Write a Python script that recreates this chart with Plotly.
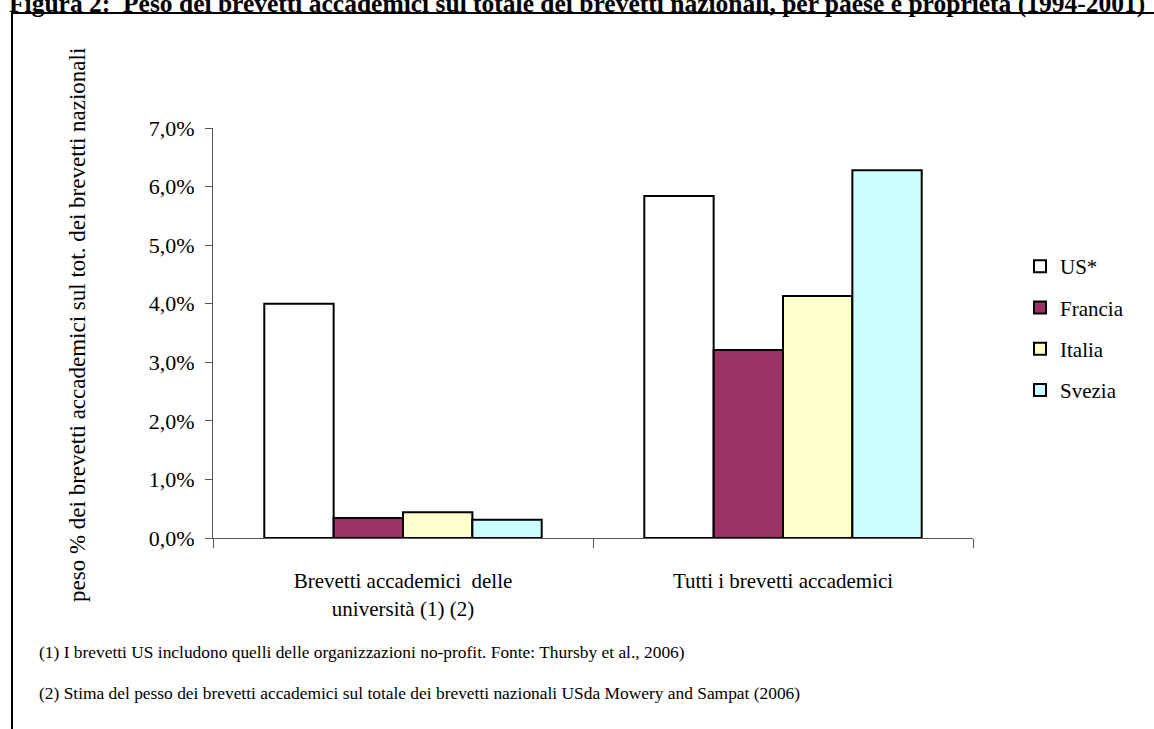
import plotly.graph_objects as go

categories = ["Brevetti accademici  delle<br>università (1) (2)", "Tutti i brevetti accademici"]
series_names = ["US*", "Francia", "Italia", "Svezia"]
us = [0.0400, 0.0584]
francia = [0.0034, 0.0321]
italia = [0.0044, 0.0413]
svezia = [0.0031, 0.0628]
series_values = [us, francia, italia, svezia]
colors = ["#FFFFFF", "#993366", "#FFFFCC", "#CCFFFF"]

title_text = "Figura 2:  Peso dei brevetti accademici sul totale dei brevetti nazionali, per paese e proprietà (1994-2001)"
ytitle = "peso % dei brevetti accademici sul tot. dei brevetti nazionali"
note1 = "(1) I brevetti US includono quelli delle organizzazioni no-profit. Fonte: Thursby et al., 2006)"
note2 = "(2) Stima del pesso dei brevetti accademici sul totale dei brevetti nazionali USda Mowery and Sampat (2006)"

W, H = 1154, 729
L, R, T, B = 213, 973, 128, 538
FONT = "Liberation Serif"

def px(x):
    return (x - L) / (R - L)

def py(y):
    return (B - y) / (B - T)

fig = go.Figure()
for i, (name, vals) in enumerate(zip(series_names, series_values)):
    fig.add_trace(go.Bar(
        x=categories, y=vals, name=name, legendgroup=name,
        marker=dict(color=colors[i], line=dict(color="black", width=2)),
    ))

fig.update_layout(
    width=W, height=H,
    margin=dict(l=L, r=W - R, t=T, b=H - B, pad=0),
    paper_bgcolor="white", plot_bgcolor="white",
    separators=",.",
    barmode="group", bargap=0.27, bargroupgap=0,
    font=dict(family=FONT, color="black", size=18),
    showlegend=True,
    legend=dict(x=px(1020), y=py(246), xanchor="left", yanchor="top",
                font=dict(size=21, family=FONT), tracegroupgap=11,
                bgcolor="rgba(0,0,0,0)", itemwidth=30),
    xaxis=dict(showline=True, linecolor="#555", linewidth=1, ticks="outside",
               tickson="boundaries", ticklen=9, tickcolor="#555",
               tickfont=dict(size=21, family=FONT), showgrid=False,
               ticklabelstandoff=24),
    yaxis=dict(range=[0, 0.07], dtick=0.01, tickformat=".1%", showline=True,
               linecolor="#555", linewidth=1, ticks="outside", ticklen=7,
               tickcolor="#555", tickfont=dict(size=22, family=FONT),
               showgrid=False, zeroline=False, ticklabelstandoff=6),
)

# frame
fig.add_shape(type="rect", xref="paper", yref="paper",
              x0=px(12), x1=px(1170), y0=py(745), y1=py(13),
              line=dict(color="black", width=2), fillcolor="rgba(0,0,0,0)", layer="below")

fig.add_annotation(text="<b>" + title_text + "</b>", xref="paper", yref="paper",
                   x=px(577), y=py(4), xanchor="center", yanchor="middle",
                   showarrow=False, font=dict(family=FONT, size=25.5, color="black"))
fig.add_annotation(text=ytitle, xref="paper", yref="paper", x=px(77), y=py(325),
                   xanchor="center", yanchor="middle", textangle=-90, showarrow=False,
                   font=dict(family=FONT, size=23, color="black"))
fig.add_annotation(text=note1, xref="paper", yref="paper", x=px(37), y=py(652),
                   xanchor="left", yanchor="middle", showarrow=False,
                   font=dict(family=FONT, size=17.4, color="black"))
fig.add_annotation(text=note2, xref="paper", yref="paper", x=px(37), y=py(693),
                   xanchor="left", yanchor="middle", showarrow=False,
                   font=dict(family=FONT, size=17.4, color="black"))

fig.write_html("out.html")
